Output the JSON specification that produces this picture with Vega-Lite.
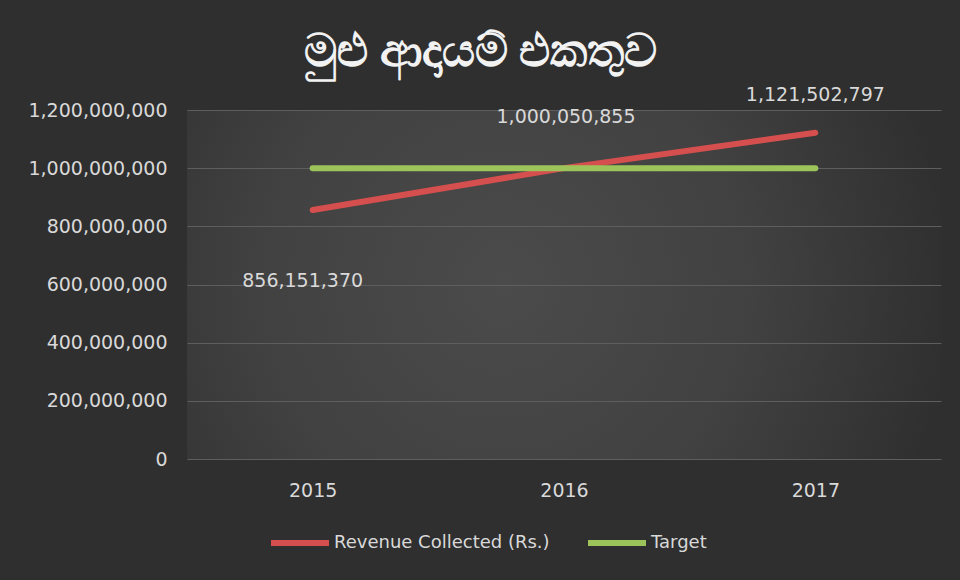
{
  "$schema": "https://vega.github.io/schema/vega-lite/v6.json",
  "width": 754,
  "height": 349,
  "autosize": {"type": "none"},
  "padding": {"left": 187, "top": 110, "right": 19, "bottom": 121},
  "background": "#2f2f2f",
  "config": {
    "view": {
      "stroke": null,
      "fill": {
        "gradient": "radial",
        "x1": 0.42, "y1": 0.5, "r1": 0,
        "x2": 0.42, "y2": 0.5, "r2": 0.6,
        "stops": [
          {"offset": 0, "color": "#4b4b4b"},
          {"offset": 0.55, "color": "#414141"},
          {"offset": 1, "color": "#2f2f2f"}
        ]
      }
    },
    "font": "DejaVu Sans"
  },
  "title": {
    "text": "මුළු ආදායම් එකතුව",
    "frame": "bounds",
    "anchor": "middle",
    "dx": -4,
    "fontSize": 46,
    "font": "Noto Sans",
    "fontWeight": "bold",
    "color": "#f2f2f2",
    "offset": 10
  },
  "data": {
    "values": [
      {"year": "2015", "series": "Revenue Collected (Rs.)", "value": 856151370},
      {"year": "2016", "series": "Revenue Collected (Rs.)", "value": 1000050855},
      {"year": "2017", "series": "Revenue Collected (Rs.)", "value": 1121502797},
      {"year": "2015", "series": "Target", "value": 1000000000},
      {"year": "2016", "series": "Target", "value": 1000000000},
      {"year": "2017", "series": "Target", "value": 1000000000}
    ]
  },
  "encoding": {
    "x": {
      "field": "year", "type": "ordinal",
      "scale": {"type": "point", "padding": 0.5},
      "axis": {
        "title": null, "labelAngle": 0, "domain": false, "ticks": false, "grid": false,
        "labelPadding": 22, "labelFontSize": 19, "labelColor": "#d9d9d9", "labelFont": "DejaVu Sans"
      }
    },
    "y": {
      "field": "value", "type": "quantitative",
      "scale": {"domain": [0, 1200000000], "nice": false},
      "axis": {
        "title": null, "values": [0, 200000000, 400000000, 600000000, 800000000, 1000000000, 1200000000],
        "format": ",d", "domain": false, "ticks": false, "labelPadding": 20,
        "labelFontSize": 19, "labelColor": "#d9d9d9", "labelFont": "DejaVu Sans",
        "gridColor": "#5e5e5e", "gridWidth": 1
      }
    }
  },
  "layer": [
    {
      "mark": {"type": "line", "strokeWidth": 6, "strokeCap": "round"},
      "encoding": {
        "color": {
          "field": "series", "type": "nominal",
          "scale": {"domain": ["Revenue Collected (Rs.)", "Target"], "range": ["#d64f4f", "#9cc45a"]},
          "legend": {
            "title": null, "orient": "none", "legendX": 81, "legendY": 401, "direction": "horizontal",
            "symbolType": "stroke", "symbolSize": 3364, "symbolStrokeWidth": 6,
            "labelFontSize": 18, "labelColor": "#d9d9d9", "labelOffset": 2, "labelLimit": 400,
            "columnPadding": 26, "labelFont": "DejaVu Sans"
          }
        }
      }
    },
    {
      "transform": [{"filter": "datum.series == 'Revenue Collected (Rs.)' && datum.year == '2015'"}],
      "mark": {"type": "text", "dx": -10, "dy": 71, "fontSize": 19, "color": "#d9d9d9", "baseline": "middle"},
      "encoding": {"text": {"field": "value", "type": "quantitative", "format": ",d"}}
    },
    {
      "transform": [{"filter": "datum.series == 'Revenue Collected (Rs.)' && datum.year == '2016'"}],
      "mark": {"type": "text", "dx": 2, "dy": -51, "fontSize": 19, "color": "#d9d9d9", "baseline": "middle"},
      "encoding": {"text": {"field": "value", "type": "quantitative", "format": ",d"}}
    },
    {
      "transform": [{"filter": "datum.series == 'Revenue Collected (Rs.)' && datum.year == '2017'"}],
      "mark": {"type": "text", "dx": 0, "dy": -38, "fontSize": 19, "color": "#d9d9d9", "baseline": "middle"},
      "encoding": {"text": {"field": "value", "type": "quantitative", "format": ",d"}}
    }
  ]
}
